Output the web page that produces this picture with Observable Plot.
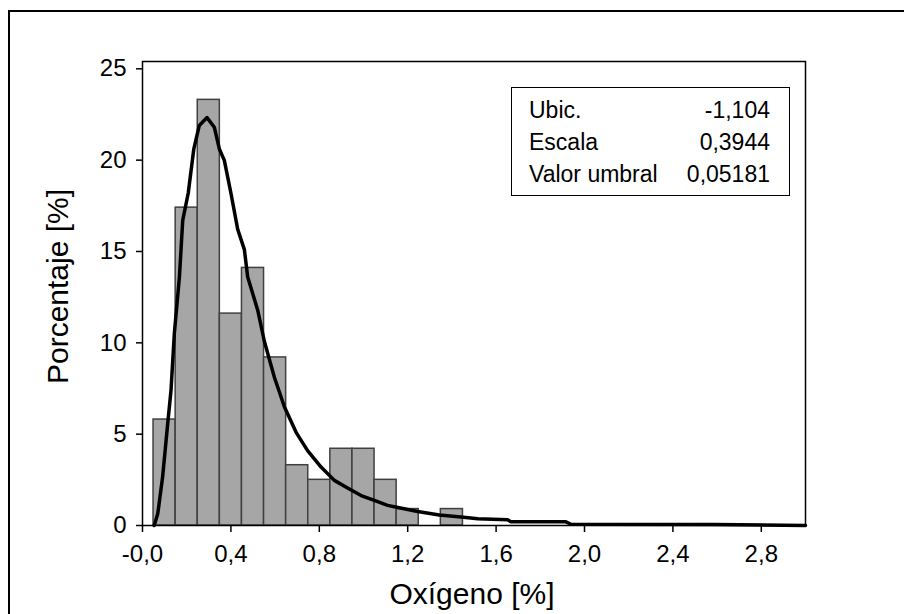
<!DOCTYPE html>
<html>
<head>
<meta charset="utf-8">
<script src="https://cdn.jsdelivr.net/npm/d3@7"></script>
<script src="https://cdn.jsdelivr.net/npm/@observablehq/plot@0.6"></script>
<style>
  html, body { margin: 0; padding: 0; background: #fff; overflow: hidden; }
  #wrap { position: relative; width: 904px; height: 614px; overflow: hidden; font-family: "Liberation Sans", Arial, sans-serif; }
  #outer { position: absolute; left: 8px; top: 10px; width: 1000px; height: 700px; border: 2px solid #000; box-sizing: border-box; }
  #chart { position: absolute; left: 0; top: 0; }
  #legend { position: absolute; left: 511px; top: 87px; width: 279px; height: 109px; box-sizing: border-box;
            border: 1.5px solid #000; background: #fff; padding: 6px 19px 0 17px; font-size: 23px; color: #000; }
  #legend .row { display: flex; justify-content: space-between; line-height: 32px; height: 32px; }
</style>
</head>
<body>
<div id="wrap">
  <div id="outer"></div>
  <div id="chart"></div>
  <div id="legend"></div>
</div>
<script>
// Histogram bins (Oxígeno [%]) and percentages
const binLo  = [0.05, 0.15, 0.25, 0.35, 0.45, 0.55, 0.65, 0.75, 0.85, 0.95, 1.05, 1.15, 1.25, 1.35];
const binHi  = [0.15, 0.25, 0.35, 0.45, 0.55, 0.65, 0.75, 0.85, 0.95, 1.05, 1.15, 1.25, 1.35, 1.45];
const binPct = [5.8, 17.4, 23.3, 11.6, 14.1, 9.2, 3.3, 2.5, 4.2, 4.2, 2.5, 0.9, 0, 0.9];

// Fitted density curve
const curveX = [0.053, 0.069, 0.091, 0.114, 0.129, 0.144, 0.167, 0.182, 0.207, 0.232, 0.257, 0.292, 0.325, 0.348, 0.370, 0.400, 0.431, 0.461, 0.476, 0.521, 0.551, 0.597, 0.642, 0.695, 0.747, 0.808, 0.868, 0.928, 0.989, 1.049, 1.109, 1.150, 1.245, 1.343, 1.441, 1.517, 1.652, 1.667, 1.916, 1.939, 2.587, 3.0];
const curveY = [0.0, 0.64, 2.65, 5.57, 7.4, 10.5, 13.6, 16.7, 18.2, 20.6, 21.9, 22.33, 21.8, 20.6, 20.0, 18.2, 16.2, 15.1, 13.6, 11.8, 10.1, 8.1, 6.5, 5.1, 4.1, 3.2, 2.47, 2.05, 1.64, 1.37, 1.1, 1.0, 0.77, 0.58, 0.46, 0.37, 0.31, 0.2, 0.2, 0.07, 0.05, 0.0];

const xTicks = [0, 0.4, 0.8, 1.2, 1.6, 2.0, 2.4, 2.8];
const xTickLabels = ["-0,0", "0,4", "0,8", "1,2", "1,6", "2,0", "2,4", "2,8"];
const yTicks = [0, 5, 10, 15, 20, 25];

const xLabel = "Oxígeno [%]";
const yLabel = "Porcentaje [%]";

const legendLabels = ["Ubic.", "Escala", "Valor umbral"];
const legendValues = ["-1,104", "0,3944", "0,05181"];

const bins = binLo.map((lo, i) => ({lo, hi: binHi[i], pct: binPct[i]})).filter(d => d.pct > 0);
const curve = curveX.map((x, i) => ({x, y: curveY[i]}));

const chart = Plot.plot({
  width: 904,
  height: 614,
  marginLeft: 142,
  marginRight: 99,
  marginTop: 61,
  marginBottom: 89,
  style: {fontFamily: '"Liberation Sans", Arial, sans-serif', color: "#000", background: "transparent", overflow: "visible"},
  x: {domain: [0, 3]},
  y: {domain: [0, 25.4]},
  marks: [
    Plot.rectY(bins, {x1: "lo", x2: "hi", y: "pct", fill: "#a6a6a6", stroke: "#404040", strokeWidth: 1.5}),
    Plot.line(curve, {x: "x", y: "y", stroke: "#000", strokeWidth: 3.5, strokeLinejoin: "round"}),
    Plot.frame({stroke: "#000", strokeWidth: 1.5}),
    Plot.axisX({ticks: xTicks, tickFormat: (d) => xTickLabels[xTicks.indexOf(d)], tickSize: 7, tickPadding: 12, fontSize: 24, label: null, stroke: "#000", strokeWidth: 1.5}),
    Plot.axisY({ticks: yTicks, tickSize: 6, tickPadding: 10, fontSize: 24, label: null, stroke: "#000", strokeWidth: 1.5}),
    Plot.text([xLabel], {frameAnchor: "bottom", textAnchor: "middle", lineAnchor: "middle", dx: -2, dy: 69, fontSize: 30, fill: "#000"}),
    Plot.text([yLabel], {frameAnchor: "left", textAnchor: "middle", lineAnchor: "middle", dx: -84, dy: -7, rotate: -90, fontSize: 30, fill: "#000"})
  ]
});
document.getElementById("chart").appendChild(chart);

const leg = document.getElementById("legend");
legendLabels.forEach((l, i) => {
  const row = document.createElement("div");
  row.className = "row";
  const a = document.createElement("span"); a.textContent = l;
  const b = document.createElement("span"); b.textContent = legendValues[i];
  row.appendChild(a); row.appendChild(b);
  leg.appendChild(row);
});
</script>
</body>
</html>
